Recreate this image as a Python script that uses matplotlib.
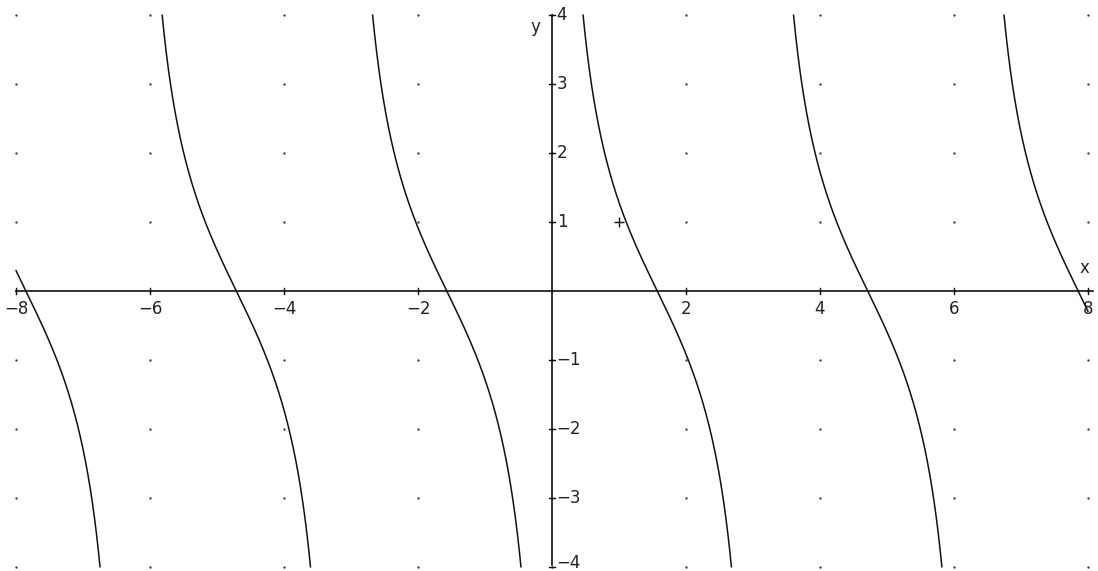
import numpy as np
import matplotlib
matplotlib.use("Agg")
import matplotlib.pyplot as plt

# plotted function: y = AMPLITUDE * cot(x)
AMPLITUDE = 2.0
X_MIN, X_MAX = -8.0, 8.0
Y_MIN, Y_MAX = -4.0, 4.0

x_ticks = [-8, -6, -4, -2, 2, 4, 6, 8]
x_tick_labels = ["\u22128", "\u22126", "\u22124", "\u22122", "2", "4", "6", "8"]
y_ticks = [-4, -3, -2, -1, 1, 2, 3, 4]
y_tick_labels = ["\u22124", "\u22123", "\u22122", "\u22121", "1", "2", "3", "4"]
grid_x = [-8, -6, -4, -2, 0, 2, 4, 6, 8]
grid_y = [-4, -3, -2, -1, 0, 1, 2, 3, 4]
marked_point = (1, 1)

INK = "#111111"

fig = plt.figure(figsize=(10.98, 5.71), dpi=100)
ax = fig.add_axes([0, 0, 1, 1])
ax.set_xlim(-8.24, 8.15)
ax.set_ylim(-4.058, 4.217)
ax.axis("off")

# dotted grid
gx, gy = np.meshgrid(grid_x, grid_y)
ax.scatter(gx.ravel(), gy.ravel(), s=3, color="#444444", zorder=1, linewidths=0)

# axes through the origin
ax.plot([X_MIN, 8.08], [0, 0], color=INK, lw=1.2, zorder=2)
ax.plot([0, 0], [Y_MIN + 0.03, Y_MAX], color=INK, lw=1.2, zorder=2)

tx = 0.045   # half tick length in x units
ty = 0.045   # half tick length in y units
for xt, lbl in zip(x_ticks, x_tick_labels):
    ax.plot([xt, xt], [-ty, ty], color=INK, lw=1.0, zorder=2)
    ax.text(xt, -0.13, lbl, ha="center", va="top", fontsize=12, color="#222222")
for yt, lbl in zip(y_ticks, y_tick_labels):
    ax.plot([-tx, tx], [yt, yt], color=INK, lw=1.0, zorder=2)
    ly = max(yt, -3.94)
    ax.text(0.07, ly, lbl, ha="left", va="center", fontsize=12, color="#222222")

ax.text(-0.25, 3.82, "y", ha="center", va="center", fontsize=12, color="#222222")
ax.text(7.95, 0.33, "x", ha="center", va="center", fontsize=12, color="#222222")

# curve
xs = np.linspace(X_MIN, X_MAX, 40001)
with np.errstate(divide="ignore", invalid="ignore"):
    ys = AMPLITUDE / np.tan(xs)
ys[(ys > Y_MAX) | (ys < Y_MIN)] = np.nan
ax.plot(xs, ys, color=INK, lw=1.1, zorder=3)

# marked point
ax.plot(*marked_point, marker="+", ms=7, mew=1.0, color=INK, zorder=3)

fig.savefig("out.png", dpi=100, facecolor="white")
